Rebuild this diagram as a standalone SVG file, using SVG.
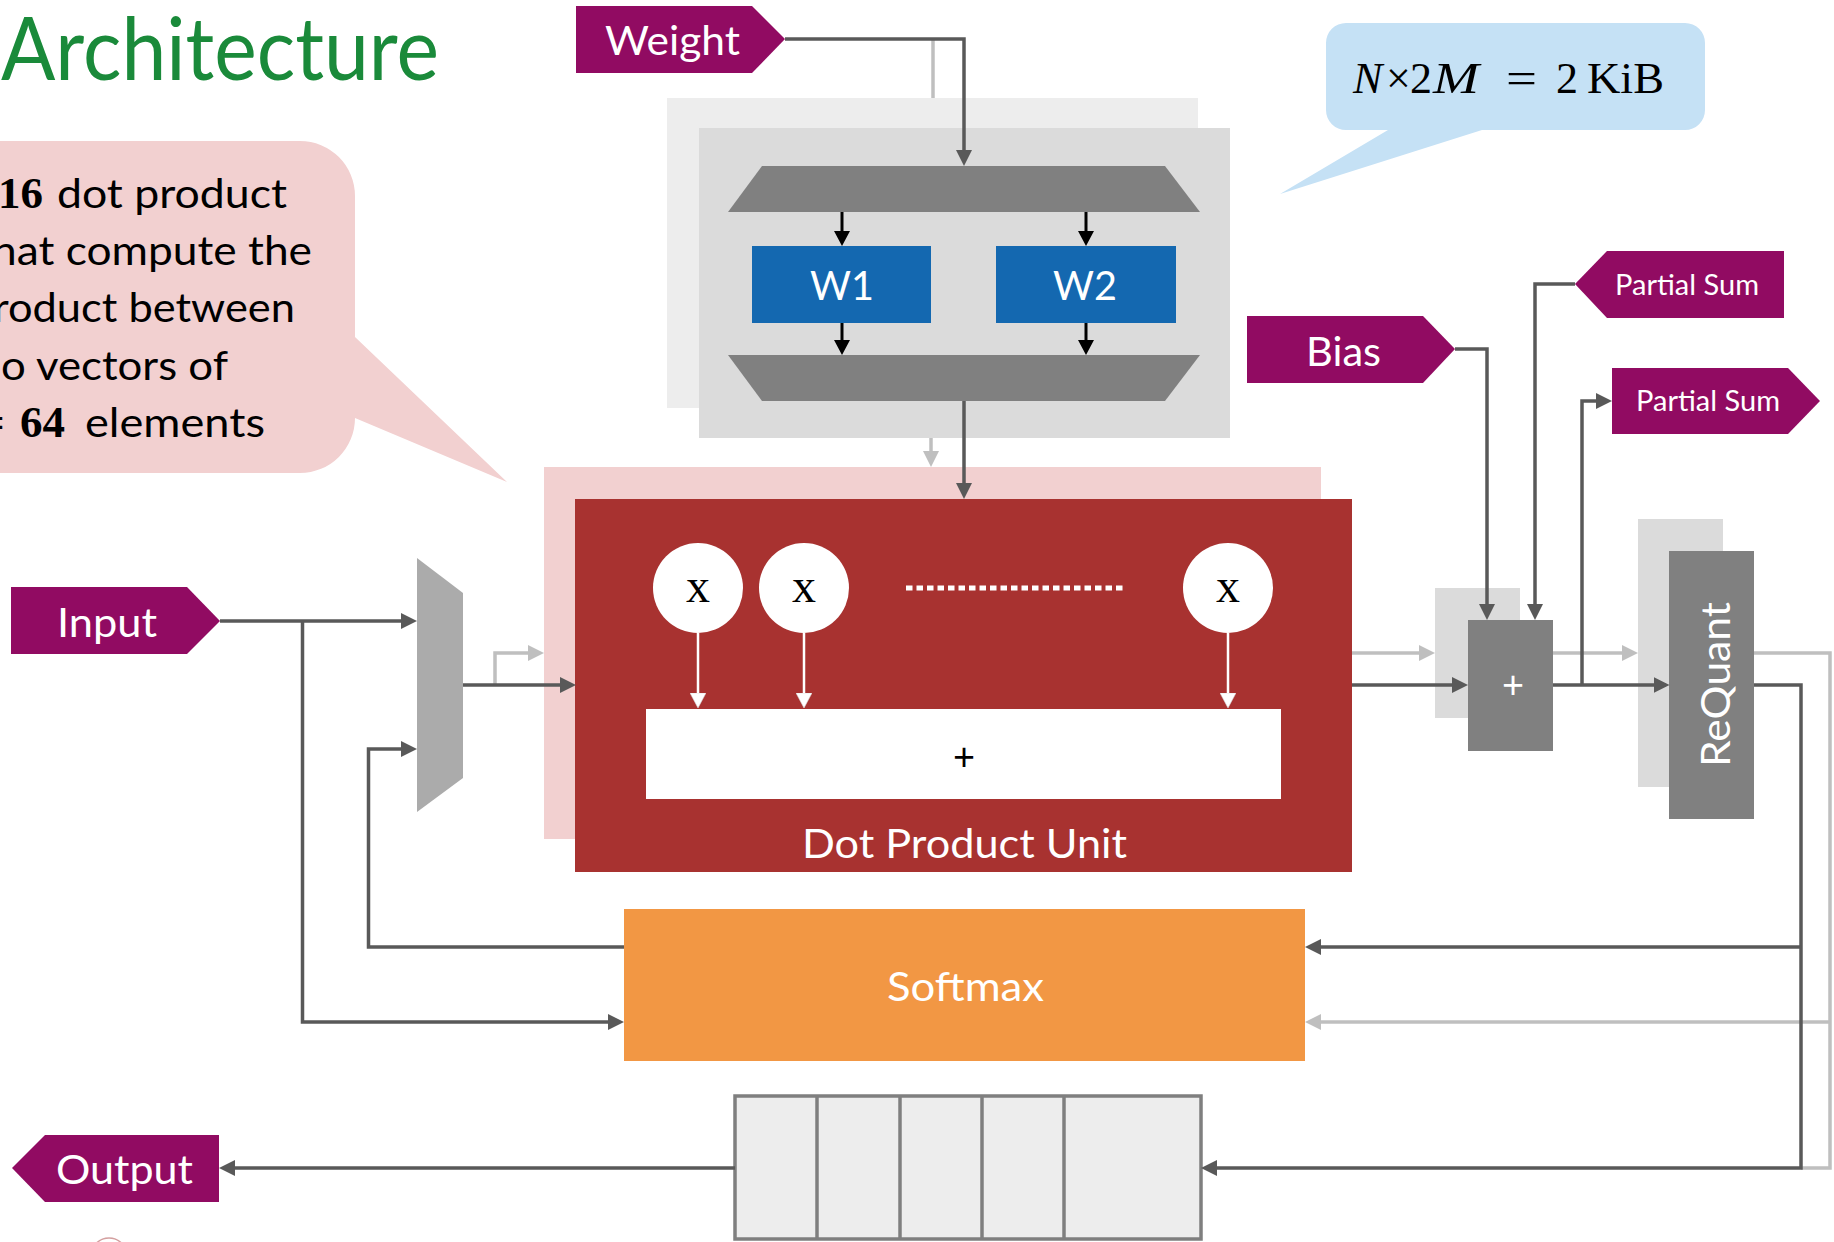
<svg xmlns="http://www.w3.org/2000/svg" width="1834" height="1242" viewBox="0 0 1834 1242">
  <defs>
    <style>
      .sans { font-family: Lato, "Open Sans", "Liberation Sans", sans-serif; }
      .serif { font-family: "Liberation Serif", "DejaVu Serif", serif; }
      .tag { fill: #910B62; }
      .tagtxt { fill: #ffffff; font-size: 41px; }
      .pstxt { fill: #ffffff; font-size: 28px; }
      .dark { fill: none; stroke: #595959; stroke-width: 3.5; }
      .light { fill: none; stroke: #BFBFBF; stroke-width: 3.5; }
      .blk { fill: none; stroke: #000000; stroke-width: 3; }
      .wht { fill: none; stroke: #ffffff; stroke-width: 2.5; }
      .trap { fill: #808080; }
      .wbox { fill: #1468B0; }
      .wtxt { fill: #ffffff; font-size: 41px; }
      .mul { fill: #ffffff; }
      .mtxt { fill: #000000; font-size: 48px; }
      .buf { fill: #EDEDED; stroke: #7F7F7F; stroke-width: 3.5; }
      .div { stroke: #7F7F7F; stroke-width: 3.5; }
      .ctxt { fill: #000000; font-size: 41px; }
      .cnum { fill: #000000; font-size: 45px; font-weight: bold; }
      .math { fill: #000000; font-size: 44px; }
    </style>
    <marker id="ad" markerUnits="userSpaceOnUse" markerWidth="16" markerHeight="16" refX="12" refY="8" orient="auto">
      <path d="M0,0 L16,8 L0,16 z" fill="#595959"/>
    </marker>
    <marker id="al" markerUnits="userSpaceOnUse" markerWidth="16" markerHeight="16" refX="12" refY="8" orient="auto">
      <path d="M0,0 L16,8 L0,16 z" fill="#BFBFBF"/>
    </marker>
    <marker id="ab" markerUnits="userSpaceOnUse" markerWidth="15" markerHeight="16" refX="11" refY="8" orient="auto">
      <path d="M0,0 L15,8 L0,16 z" fill="#000000"/>
    </marker>
    <marker id="aw" markerUnits="userSpaceOnUse" markerWidth="15" markerHeight="16" refX="11" refY="8" orient="auto">
      <path d="M0,0 L15,8 L0,16 z" fill="#ffffff" stroke="#d8d8d8" stroke-width="0.6"/>
    </marker>
  </defs>

  <rect x="0" y="0" width="1834" height="1242" fill="#ffffff"/>

  <!-- heading -->
  <g id="title">
    <text class="sans" x="1" y="80" font-size="88" fill="#1A8A3A" textLength="438" lengthAdjust="spacingAndGlyphs">Architecture</text>
  </g>

  <!-- pink speech bubble on the left -->
  <g id="callout-dpu">
    <path d="M-20,141 H300 A55,55 0 0 1 355,196 V337 L507,482 L355,418 A55,55 0 0 1 300,473 H-20 Z" fill="#F2D0D0"/>
    <text class="serif cnum" x="-2" y="208">16</text>
    <text class="sans ctxt" x="57" y="208" textLength="230" lengthAdjust="spacingAndGlyphs">dot product</text>
    <text class="sans ctxt" x="-8" y="265" textLength="320" lengthAdjust="spacingAndGlyphs">hat compute the</text>
    <text class="sans ctxt" x="-7" y="322" textLength="302" lengthAdjust="spacingAndGlyphs">roduct between</text>
    <text class="sans ctxt" x="1" y="380" textLength="227" lengthAdjust="spacingAndGlyphs">o vectors of</text>
    <text class="serif cnum" x="-21" y="437" font-weight="normal">=</text>
    <text class="serif cnum" x="20" y="437">64</text>
    <text class="sans ctxt" x="85" y="437" textLength="180" lengthAdjust="spacingAndGlyphs">elements</text>
  </g>

  <!-- light blue speech bubble with the memory size -->
  <g id="callout-mem">
    <path d="M1346,23 H1685 A20,20 0 0 1 1705,43 V110 A20,20 0 0 1 1685,130 H1482 L1280,194 L1388,130 H1346 A20,20 0 0 1 1326,110 V43 A20,20 0 0 1 1346,23 Z" fill="#C5E1F5"/>
    <text class="serif math" x="1353" y="93" font-style="italic">N</text>
    <text class="serif math" x="1386" y="93">×</text>
    <text class="serif math" x="1410" y="93">2</text>
    <text class="serif math" x="1433" y="93" font-style="italic" textLength="46" lengthAdjust="spacingAndGlyphs">M</text>
    <text class="serif math" x="1506" y="93" textLength="31" lengthAdjust="spacingAndGlyphs">=</text>
    <text class="serif math" x="1556" y="93">2</text>
    <text class="serif math" x="1587" y="93" textLength="77" lengthAdjust="spacingAndGlyphs">KiB</text>
  </g>

  <!-- weight memory -->
  <g id="weight-mem">
    <rect x="667" y="98" width="531" height="310" fill="#EDEDED"/>
    <rect x="699" y="128" width="531" height="310" fill="#DBDBDB"/>
    <polygon class="trap" points="762,166 1165,166 1200,212 728,212"/>
    <polygon class="trap" points="728,355 1200,355 1165,401 762,401"/>
    <g id="w1">
      <rect class="wbox" x="752" y="246" width="179" height="77"/>
      <text class="sans wtxt" x="810" y="300" textLength="64" lengthAdjust="spacingAndGlyphs">W1</text>
    </g>
    <g id="w2">
      <rect class="wbox" x="996" y="246" width="180" height="77"/>
      <text class="sans wtxt" x="1053" y="300" textLength="64" lengthAdjust="spacingAndGlyphs">W2</text>
    </g>
    <path class="blk" d="M842,212 V242" marker-end="url(#ab)"/>
    <path class="blk" d="M1086,212 V242" marker-end="url(#ab)"/>
    <path class="blk" d="M842,323 V351" marker-end="url(#ab)"/>
    <path class="blk" d="M1086,323 V351" marker-end="url(#ab)"/>
  </g>

  <!-- dot product unit -->
  <g id="dpu">
    <rect x="544" y="467" width="777" height="372" fill="#F2D0D0"/>
    <rect x="575" y="499" width="777" height="373" fill="#A83230"/>
    <circle class="mul" cx="698" cy="588" r="45"/>
    <circle class="mul" cx="804" cy="588" r="45"/>
    <circle class="mul" cx="1228" cy="588" r="45"/>
    <text class="serif mtxt" x="698" y="602" text-anchor="middle">x</text>
    <text class="serif mtxt" x="804" y="602" text-anchor="middle">x</text>
    <text class="serif mtxt" x="1228" y="602" text-anchor="middle">x</text>
    <line x1="906" y1="588" x2="1126" y2="588" stroke="#ffffff" stroke-width="5" stroke-dasharray="6.5 4"/>
    <path class="wht" d="M698,633 V704" marker-end="url(#aw)"/>
    <path class="wht" d="M804,633 V704" marker-end="url(#aw)"/>
    <path class="wht" d="M1228,633 V704" marker-end="url(#aw)"/>
    <rect x="646" y="709" width="635" height="90" fill="#ffffff"/>
    <text class="sans" x="964" y="770" font-size="38" text-anchor="middle" fill="#000000">+</text>
    <text class="sans" x="802" y="858" font-size="41" fill="#ffffff" textLength="325" lengthAdjust="spacingAndGlyphs">Dot Product Unit</text>
  </g>

  <!-- input multiplexer -->
  <g id="mux">
    <polygon points="417,558 463,593 463,778 417,812" fill="#ABABAB"/>
  </g>

  <!-- bias / partial sum adder -->
  <g id="adder">
    <rect x="1435" y="588" width="85" height="130" fill="#DBDBDB"/>
    <rect x="1468" y="620" width="85" height="131" fill="#808080"/>
    <text class="sans" x="1513" y="698" font-size="38" text-anchor="middle" fill="#ffffff">+</text>
  </g>

  <!-- requantization -->
  <g id="requant">
    <rect x="1638" y="519" width="85" height="268" fill="#DBDBDB"/>
    <rect x="1669" y="551" width="85" height="268" fill="#808080"/>
    <text class="sans" transform="translate(1730,767) rotate(-90)" x="0" y="0" font-size="41" fill="#ffffff" textLength="165" lengthAdjust="spacingAndGlyphs">ReQuant</text>
  </g>

  <!-- softmax -->
  <g id="softmax">
    <rect x="624" y="909" width="681" height="152" fill="#F29744"/>
    <text class="sans" x="887" y="1001" font-size="41" fill="#ffffff" textLength="157" lengthAdjust="spacingAndGlyphs">Softmax</text>
  </g>

  <!-- output buffer -->
  <g id="buffer">
    <rect class="buf" x="735" y="1096" width="466" height="143"/>
    <line class="div" x1="817" y1="1096" x2="817" y2="1239"/>
    <line class="div" x1="900" y1="1096" x2="900" y2="1239"/>
    <line class="div" x1="982" y1="1096" x2="982" y2="1239"/>
    <line class="div" x1="1064" y1="1096" x2="1064" y2="1239"/>
  </g>

  <!-- port tags -->
  <g id="tag-weight">
    <polygon class="tag" points="576,6 752,6 785,39 752,73 576,73"/>
    <text class="sans tagtxt" x="605" y="55" textLength="135" lengthAdjust="spacingAndGlyphs">Weight</text>
  </g>
  <g id="tag-input">
    <polygon class="tag" points="11,587 187,587 220,621 187,654 11,654"/>
    <text class="sans tagtxt" x="57" y="637" textLength="100" lengthAdjust="spacingAndGlyphs">Input</text>
  </g>
  <g id="tag-output">
    <polygon class="tag" points="12,1168 45,1135 219,1135 219,1202 45,1202"/>
    <text class="sans tagtxt" x="56" y="1184" textLength="137" lengthAdjust="spacingAndGlyphs">Output</text>
  </g>
  <g id="tag-bias">
    <polygon class="tag" points="1247,316 1423,316 1455,349 1423,383 1247,383"/>
    <text class="sans tagtxt" x="1306" y="366" textLength="75" lengthAdjust="spacingAndGlyphs">Bias</text>
  </g>
  <g id="tag-psum-in">
    <polygon class="tag" points="1575,284 1607,251 1784,251 1784,318 1607,318"/>
    <text class="sans pstxt" x="1615" y="295" textLength="144" lengthAdjust="spacingAndGlyphs">Partial Sum</text>
  </g>
  <g id="tag-psum-out">
    <polygon class="tag" points="1612,368 1788,368 1820,401 1788,434 1612,434"/>
    <text class="sans pstxt" x="1636" y="411" textLength="144" lengthAdjust="spacingAndGlyphs">Partial Sum</text>
  </g>

  <!-- connectors: second-lane paths first, main paths on top -->
  <g id="connectors">
    <path class="light" d="M933,39 V98"/>
    <path class="light" d="M931,438 V463" marker-end="url(#al)"/>
    <path class="light" d="M495,685 V653 H540" marker-end="url(#al)"/>
    <path class="light" d="M1352,653 H1431" marker-end="url(#al)"/>
    <path class="light" d="M1553,653 H1634" marker-end="url(#al)"/>
    <path class="light" d="M1754,653 H1830 V1168 H1801"/>
    <path class="light" d="M1830,1022 H1309" marker-end="url(#al)"/>

    <path class="dark" d="M785,39 H964 V162" marker-end="url(#ad)"/>
    <path class="dark" d="M964,401 V495" marker-end="url(#ad)"/>
    <path class="dark" d="M220,621 H413" marker-end="url(#ad)"/>
    <path class="dark" d="M302.5,621 V1022 H620" marker-end="url(#ad)"/>
    <path class="dark" d="M624,947 H368.5 V749 H413" marker-end="url(#ad)"/>
    <path class="dark" d="M463,685 H572" marker-end="url(#ad)"/>
    <path class="dark" d="M1352,685 H1464" marker-end="url(#ad)"/>
    <path class="dark" d="M1455,349 H1487 V616" marker-end="url(#ad)"/>
    <path class="dark" d="M1575,284 H1535 V616" marker-end="url(#ad)"/>
    <path class="dark" d="M1553,685 H1665.5" marker-end="url(#ad)"/>
    <path class="dark" d="M1582,685 V401 H1608" marker-end="url(#ad)"/>
    <path class="dark" d="M1754,685 H1801 V1168 H1205" marker-end="url(#ad)"/>
    <path class="dark" d="M1801,947 H1309" marker-end="url(#ad)"/>
    <path class="dark" d="M735,1168 H223" marker-end="url(#ad)"/>
  </g>

  <!-- emblem at the lower edge -->
  <g id="emblem" fill="none" stroke="#D4A0A0" stroke-width="1.5">
    <circle cx="109" cy="1256" r="18"/>
    <circle cx="109" cy="1256" r="13"/>
  </g>
</svg>
